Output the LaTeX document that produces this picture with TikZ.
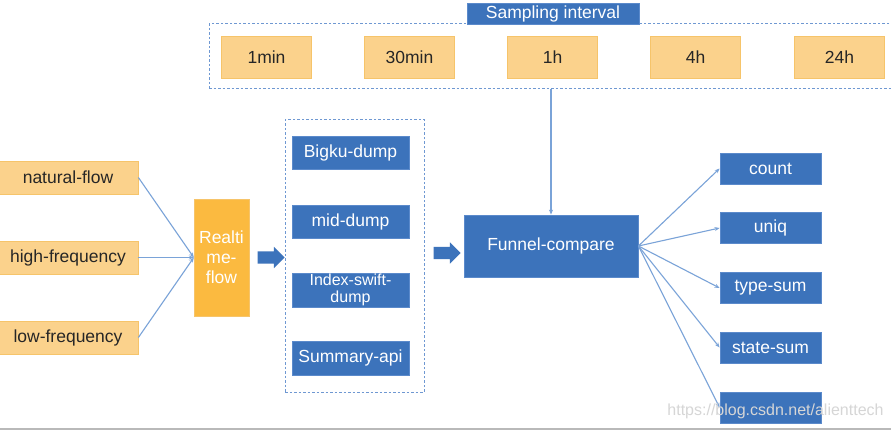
\documentclass[tikz,border=0pt]{standalone}
\usepackage{fontspec}
\setmainfont{Liberation Sans}
\usetikzlibrary{shapes.arrows,arrows.meta}
\definecolor{bluebox}{HTML}{3C73BB}
\definecolor{blueedge}{HTML}{5B8ACB}
\definecolor{lineblue}{HTML}{7AA3D8}
\definecolor{dashblue}{HTML}{6F98D2}
\definecolor{lightorange}{HTML}{FBD28C}
\definecolor{orangeedge}{HTML}{F6C46A}
\definecolor{deeporange}{HTML}{FBBA40}
\definecolor{wmgray}{HTML}{D6D6D6}
\tikzset{
  txt/.style={font=\fontsize{17.5}{19}\selectfont},
  bluebx/.style={txt, draw=blueedge, fill=bluebox, text=white, inner sep=0pt, line width=0.8pt},
  orgbx/.style={txt, draw=orangeedge, fill=lightorange, text=black!85, inner sep=0pt, line width=0.8pt},
  groupbox/.style={draw=dashblue, dash pattern=on 2.5pt off 2pt, line width=1pt, inner sep=0pt},
  conn/.style={draw=lineblue, line width=1.1pt, -{Stealth[length=5pt,width=4pt]}},
  fatarrow/.style={single arrow, fill=bluebox, draw=none, minimum height=27pt, minimum width=21pt,
    inner xsep=0pt, inner ysep=6pt, text width=0pt, single arrow head extend=4.5pt, single arrow tip angle=90}
}
\begin{document}
\begin{tikzpicture}[x=1pt,y=-1pt]
\useasboundingbox (0,0) rectangle (891,430);
\fill[white] (0,0) rectangle (891,430);
\draw[gray!55, line width=1.2pt] (0,428.9) -- (891,428.9);

% sampling interval group
\node[groupbox, minimum width=690pt, minimum height=65pt] (sampbox) at (554,56.5) {};
\node[bluebx, minimum width=172pt, minimum height=21pt] (title) at (553,13.5) {Sampling interval};
\node[orgbx, minimum width=90pt, minimum height=42pt] (t1) at (266.5,57.5) {1min};
\node[orgbx, minimum width=90pt, minimum height=42pt] (t2) at (409.5,57.5) {30min};
\node[orgbx, minimum width=90pt, minimum height=42pt] (t3) at (552.5,57.5) {1h};
\node[orgbx, minimum width=90pt, minimum height=42pt] (t4) at (695.5,57.5) {4h};
\node[orgbx, minimum width=90pt, minimum height=42pt] (t5) at (839.5,57.5) {24h};

% inputs
\node[orgbx, minimum width=140pt, minimum height=33pt] (nat) at (68,177.5) {natural-flow};
\node[orgbx, minimum width=140pt, minimum height=33pt] (high) at (68,257.5) {high-frequency};
\node[orgbx, minimum width=140pt, minimum height=33pt] (low) at (68,337.5) {low-frequency};
\node[txt, fill=deeporange, draw=orangeedge, text=white, inner sep=0pt, minimum width=55pt, minimum height=117pt,
      align=center] (rt) at (221.5,257.5) {Realti\\[1pt]me-\\[1pt]flow};

\draw[conn] (nat.east) -- (rt.west);
\draw[conn] (high.east) -- (rt.west);
\draw[conn] (low.east) -- (rt.west);

\node[fatarrow] (fa1) at (268,257.5) {};

% dumps group
\node[groupbox, minimum width=139pt, minimum height=272pt] (dumpbox) at (354.5,256) {};
\node[bluebx, minimum width=117pt, minimum height=33pt] (d1) at (350.5,152.5) {Bigku-dump};
\node[bluebx, minimum width=117pt, minimum height=33pt] (d2) at (350.5,221.5) {mid-dump};
\node[bluebx, minimum width=117pt, minimum height=34pt, align=center,
      font=\fontsize{16}{17}\selectfont] (d3) at (350.5,290) {Index-swift-\\dump};
\node[bluebx, minimum width=117pt, minimum height=34pt] (d4) at (350.5,358) {Summary-api};

\node[fatarrow] (fa2) at (444,253) {};

% funnel
\node[bluebx, minimum width=174pt, minimum height=62pt] (fun) at (551,246) {Funnel-compare};
\draw[conn] (fun.north |- sampbox.south) -- (fun.north);

% outputs
\node[bluebx, minimum width=101pt, minimum height=31pt] (o1) at (770.5,168.5) {count};
\node[bluebx, minimum width=101pt, minimum height=31pt] (o2) at (770.5,228) {uniq};
\node[bluebx, minimum width=101pt, minimum height=31pt] (o3) at (770.5,288) {type-sum};
\node[bluebx, minimum width=101pt, minimum height=31pt] (o4) at (770.5,347.5) {state-sum};
\node[bluebx, minimum width=101pt, minimum height=31pt] (o5) at (770.5,407.5) {};

\foreach \o in {o1,o2,o3,o4,o5} \draw[conn] (fun.east) -- (\o.west);

% watermark
\node[font=\fontsize{16}{18}\selectfont, text=wmgray, inner sep=0pt] (wm) at (775.5,411) {https://blog.csdn.net/alienttech};
\end{tikzpicture}
\end{document}
